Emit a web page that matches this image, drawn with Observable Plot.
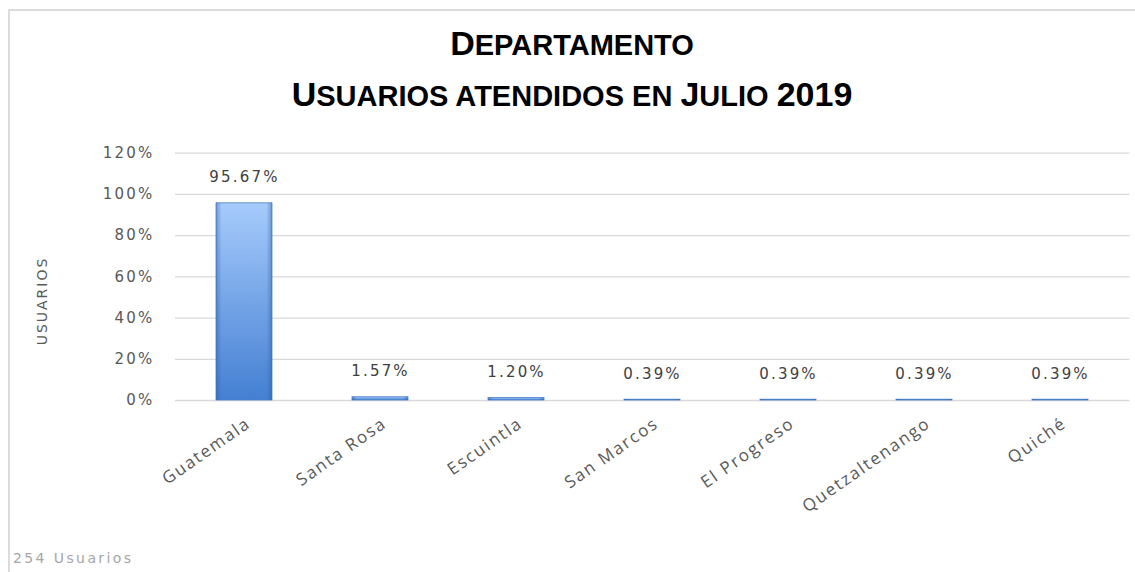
<!DOCTYPE html>
<html><head><meta charset="utf-8">
<script src="https://cdn.jsdelivr.net/npm/d3@7"></script>
<script src="https://cdn.jsdelivr.net/npm/@observablehq/plot@0.6"></script>
<style>
body{margin:0;background:#fff;width:1135px;height:572px;overflow:hidden;position:relative;font-family:"DejaVu Sans",sans-serif}
#frame{position:absolute;left:8px;top:9px;width:1140px;height:620px;border-left:2px solid #dcdcdc;border-top:2px solid #dcdcdc}
.title{position:absolute;left:0;width:1144px;text-align:center;font-family:"Liberation Sans Narrow","Liberation Sans",sans-serif;font-weight:bold;color:#000;white-space:nowrap;line-height:1;letter-spacing:0px}
.big{font-size:34px}.sm{font-size:29px}
#t1{top:26px}
#t2{top:77px}
#ylab{position:absolute;left:42px;top:301px;transform:translate(-50%,-50%) rotate(-90deg);font-size:14px;color:#595959;letter-spacing:2px;white-space:nowrap}
#cap{position:absolute;left:13px;top:550px;font-size:14px;color:#a6a6a6;letter-spacing:2.4px;white-space:nowrap}
#chart{position:absolute;left:0;top:130px}
</style>
</head><body>
<div id="frame"></div>
<div class="title" id="t1"><span class="big">D</span><span class="sm">EPARTAMENTO</span></div>
<div class="title" id="t2"><span class="big">U</span><span class="sm">SUARIOS ATENDIDOS EN </span><span class="big">J</span><span class="sm">ULIO </span><span class="big">2019</span></div>
<div id="ylab">USUARIOS</div>
<div id="chart"></div>
<div id="cap">254 Usuarios</div>
<script>
const departamentos = ["Guatemala","Santa Rosa","Escuintla","San Marcos","El Progreso","Quetzaltenango","Quiché"];
const porcentajes = [95.67, 1.57, 1.20, 0.39, 0.39, 0.39, 0.39];
const yTicks = [0, 20, 40, 60, 80, 100, 120];

const data = departamentos.map((d, i) => ({depto: d, valor: porcentajes[i] / 100}));
const ticks = yTicks.map(t => t / 100);
const pct0 = d3.format(".0%");
const pct2 = d3.format(".2%");

const svg = Plot.plot({
  width: 1135,
  height: 442,
  marginTop: 22.7,
  marginBottom: 172,
  marginLeft: 175,
  marginRight: 5.5,
  style: {background: "transparent", overflow: "visible"},
  x: {domain: departamentos, paddingInner: 0.59, paddingOuter: 0.295, label: null},
  y: {domain: [0, 1.2], ticks: ticks, label: null},
  marks: [
    Plot.gridY(ticks, {stroke: "#d9d9d9", strokeOpacity: 1, strokeWidth: 1.3}),
    Plot.axisY(ticks, {tickSize: 0, tickPadding: 21, tickFormat: pct0, fontSize: 15, fill: "#595959", fontFamily: "DejaVu Sans"}),
    Plot.axisX({tickSize: 0, tickPadding: 21, tickRotate: -35, fontSize: 17, fill: "#595959", fontFamily: "Open Sans", dx: 4}),
    Plot.barY(data, {x: "depto", y: "valor", fill: "url(#barGrad)", stroke: "#4a7fc8", strokeWidth: 0.8}),
    Plot.barY(data, {x: "depto", y: "valor", fill: "url(#edgeGrad)"}),
    Plot.text(data, {x: "depto", y: "valor", text: d => pct2(d.valor), dy: -26, fontSize: 15, fill: "#404040", fontFamily: "DejaVu Sans"})
  ]
});

const sel = d3.select(svg);
sel.selectAll('g[aria-label="y-axis tick label"]').style("letter-spacing", "2.2px");
sel.selectAll('g[aria-label="x-axis tick label"]').style("letter-spacing", "1.8px");
sel.selectAll('g[aria-label="text"]').style("letter-spacing", "2.2px");

const defs = sel.insert("defs", ":first-child");
const g1 = defs.append("linearGradient").attr("id", "barGrad").attr("x1", 0).attr("y1", 0).attr("x2", 0).attr("y2", 1);
g1.append("stop").attr("offset", "0%").attr("stop-color", "#a6cbfc");
g1.append("stop").attr("offset", "100%").attr("stop-color", "#447fd2");
const g2 = defs.append("linearGradient").attr("id", "edgeGrad").attr("x1", 0).attr("y1", 0).attr("x2", 1).attr("y2", 0);
g2.append("stop").attr("offset", "0%").attr("stop-color", "#2a5aa0").attr("stop-opacity", 0.45);
g2.append("stop").attr("offset", "10%").attr("stop-color", "#2a5aa0").attr("stop-opacity", 0);
g2.append("stop").attr("offset", "90%").attr("stop-color", "#2a5aa0").attr("stop-opacity", 0);
g2.append("stop").attr("offset", "100%").attr("stop-color", "#2a5aa0").attr("stop-opacity", 0.45);

document.getElementById("chart").appendChild(svg);
</script>
</body></html>
